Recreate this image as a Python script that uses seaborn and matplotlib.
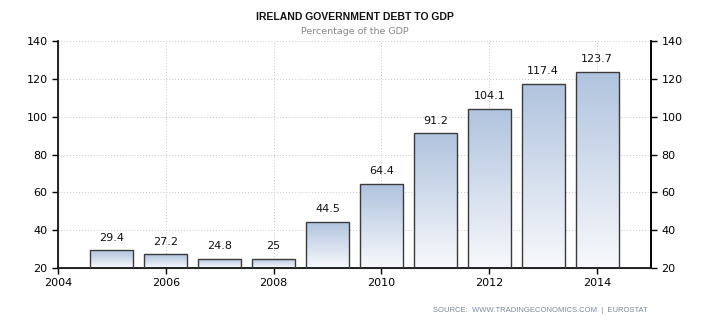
import numpy as np
import matplotlib
matplotlib.use("Agg")
import matplotlib.pyplot as plt
import matplotlib.colors as mcolors
import seaborn as sns

# data
years = [2005, 2006, 2007, 2008, 2009, 2010, 2011, 2012, 2013, 2014]
debt = [29.4, 27.2, 24.8, 25, 44.5, 64.4, 91.2, 104.1, 117.4, 123.7]
labels = ["29.4", "27.2", "24.8", "25", "44.5", "64.4", "91.2", "104.1", "117.4", "123.7"]
xticks = [2004, 2006, 2008, 2010, 2012, 2014]
yticks = [20, 40, 60, 80, 100, 120, 140]

sns.set_style("white")
plt.rcParams["font.family"] = ["DejaVu Sans"]

fig = plt.figure(figsize=(7.1, 3.25), dpi=100)
ax = fig.add_axes([58 / 710, 1 - 268 / 325, (651 - 58) / 710, (268 - 41) / 325])

sns.barplot(x=years, y=debt, native_scale=True, width=0.8, color="white",
            edgecolor="#3a3a3a", linewidth=1.0, ax=ax, zorder=3)

ax.set_xlim(2004, 2015)
ax.set_ylim(20, 140)

# gradient fill, one per bar
cmap = mcolors.LinearSegmentedColormap.from_list("g", ["#f8f9fc", "#b0c3de"])
grad = np.linspace(0, 1, 256).reshape(-1, 1)
for p in ax.patches:
    x0 = p.get_x()
    w = p.get_width()
    top = p.get_y() + p.get_height()
    im = ax.imshow(grad, extent=[x0, x0 + w, 20, top], origin="lower",
                   aspect="auto", cmap=cmap, zorder=2)
    im.set_clip_path(p)
    p.set_facecolor("none")

for x, v, t in zip(years, debt, labels):
    ax.text(x, v + 4, t, ha="center", va="bottom", fontsize=8, color="#111111")

ax.set_xticks(xticks)
ax.set_yticks(yticks)
ax.tick_params(axis="both", direction="out", length=4, width=1, labelsize=8,
               colors="black", bottom=True, left=True)
ax.grid(True, linestyle=(0, (1, 2)), color="#c8c8c8", linewidth=0.7, zorder=0)
ax.set_axisbelow(True)
ax.spines["top"].set_visible(False)
for s in ["left", "bottom", "right"]:
    ax.spines[s].set_color("black")
    ax.spines[s].set_linewidth(1.2)

ax2 = ax.twinx()
ax2.set_ylim(20, 140)
ax2.set_yticks(yticks)
ax2.tick_params(axis="y", direction="out", length=4, width=1, labelsize=8,
                colors="black", right=True)
ax2.spines["top"].set_visible(False)
ax2.spines["right"].set_color("black")
ax2.spines["right"].set_linewidth(1.2)
ax2.grid(False)

fig.text(0.5, 1 - 17 / 325, "IRELAND GOVERNMENT DEBT TO GDP", ha="center",
         va="center", fontsize=7.5, color="#111111", fontweight="bold",
         family="Liberation Sans")
fig.text(0.5, 1 - 32 / 325, "Percentage of the GDP", ha="center",
         va="center", fontsize=6.8, color="#888888")
fig.text(648 / 710, 1 - 311 / 325, "SOURCE:  WWW.TRADINGECONOMICS.COM  |  EUROSTAT",
         ha="right", va="center", fontsize=5.5, color="#7a8a9a",
         family="Liberation Sans")

fig.savefig("out.png", dpi=100)
